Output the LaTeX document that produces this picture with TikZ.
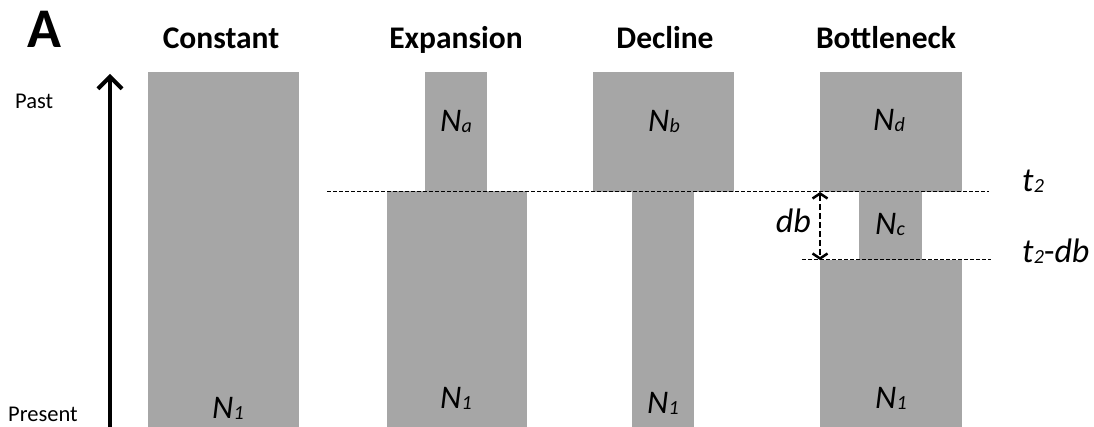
\documentclass[tikz,border=0pt]{standalone}
\usepackage{fontspec}
\setmainfont{Carlito}
\usetikzlibrary{arrows.meta}
\definecolor{popgray}{HTML}{A6A6A6}
\newcommand{\Nsym}[1]{\textit{N}\kern0.3pt\raisebox{-1pt}{\fontsize{20}{20}\selectfont\textit{#1}}}
\newcommand{\tsym}{\textit{t}\kern0.3pt\raisebox{-1pt}{\fontsize{20}{20}\selectfont\textit{2}}}
\begin{document}
\begin{tikzpicture}[x=1pt,y=-1pt,
  popbox/.style={fill=popgray,draw=none,inner sep=0,outer sep=0,anchor=north west,rectangle},
  title/.style={font=\fontsize{31.5}{36}\selectfont\bfseries,anchor=base,inner sep=0},
  nlab/.style={font=\fontsize{33}{38}\selectfont,anchor=base,inner sep=0},
  tlab/.style={font=\fontsize{34}{38}\selectfont,anchor=base west,inner sep=0},
  side/.style={font=\fontsize{22.5}{26}\selectfont,anchor=base west,inner sep=0},
  guide/.style={dash pattern=on 4pt off 2pt,line width=1pt},
  dbarrow/.style={dash pattern=on 6pt off 3pt,line width=2.5pt,
    {Straight Barb[length=5pt,width=15pt]}-{Straight Barb[length=5pt,width=15pt]}},
  timearrow/.style={line width=4pt,-{Straight Barb[length=12pt,width=24pt]}}]
\useasboundingbox (0,0) rectangle (1094,427);

% panel letter and side labels
\node[font=\fontsize{56}{62}\selectfont\bfseries,anchor=base west,inner sep=0] (panelA) at (27,48) {A};
\node[side] (past) at (15,109) {Past};
\node[side] (present) at (8,421) {Present};
\coordinate (abot) at (110,430);
\coordinate (atop) at (110,74);
\draw[timearrow] (abot) -- (atop);

% titles
\node[title] (tconst) at (221,49) {Constant};
\node[title] (texp) at (456,49) {Expansion};
\node[title] (tdec) at (665,49) {Decline};
\node[title] (tbot) at (886,49) {Bottleneck};

% Constant
\node[popbox,minimum width=151pt,minimum height=355pt] (constR) at (148,72) {};
% Expansion
\node[popbox,minimum width=62pt,minimum height=120pt] (expTop) at (425,72) {};
\node[popbox,minimum width=140pt,minimum height=236pt] (expBot) at (387,191) {};
% Decline
\node[popbox,minimum width=141pt,minimum height=120pt] (decTop) at (593,72) {};
\node[popbox,minimum width=62pt,minimum height=236pt] (decBot) at (632,191) {};
% Bottleneck
\node[popbox,minimum width=142pt,minimum height=120pt] (botTop) at (820,72) {};
\node[popbox,minimum width=63pt,minimum height=70pt] (botMid) at (859,191) {};
\node[popbox,minimum width=142pt,minimum height=167pt] (botBot) at (820,260) {};

% population size labels
\node[nlab] (nconst) at (228,418) {\Nsym{1}};
\node[nlab] (na) at (456,132) {\Nsym{a}};
\node[nlab] (nexp) at (456,408) {\Nsym{1}};
\node[nlab] (nb) at (664,132) {\Nsym{b}};
\node[nlab] (ndec) at (663,413) {\Nsym{1}};
\node[nlab] (nd) at (889,131) {\Nsym{d}};
\node[nlab] (nc) at (890,235) {\Nsym{c}};
\node[nlab] (nbot) at (891,408) {\Nsym{1}};

% time guides
\coordinate (t2l) at (327,191.5);
\coordinate (t2r) at (989,191.5);
\coordinate (tdbl) at (802,260);
\coordinate (tdbr) at (991,260);
\draw[guide] (t2l) -- (t2r);
\draw[guide] (tdbl) -- (tdbr);
\node[tlab] (tt2) at (1022,192) {\tsym};
\node[tlab] (tt2db) at (1022,263) {\tsym-\textit{db}};

% bottleneck duration
\coordinate (dbtop) at (820,192);
\coordinate (dbbot) at (820,260);
\draw[dbarrow] (dbtop) -- (dbbot);
\node[font=\fontsize{34}{38}\selectfont,anchor=base east,inner sep=0] (dblab) at (811,233) {\textit{db}};
\end{tikzpicture}
\end{document}
